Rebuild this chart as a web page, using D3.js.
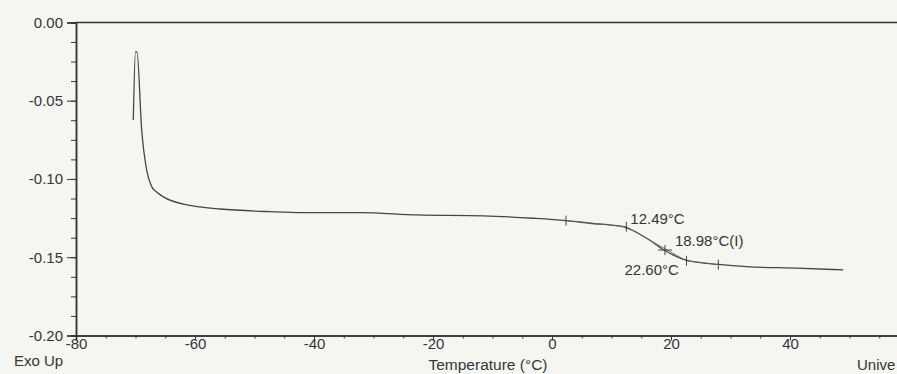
<!DOCTYPE html>
<html>
<head>
<meta charset="utf-8">
<script src="https://cdn.jsdelivr.net/npm/d3@7"></script>
<style>
  html, body { margin: 0; padding: 0; background: #f5f5f2; overflow: hidden; }
  svg { display: block; font-family: "Liberation Sans", Arial, sans-serif; }
</style>
</head>
<body>
<svg id="chart" width="897" height="374"></svg>
<script>
// DSC trace
const temps = [-70.37, -70.0, -69.75, -68.96, -68.12, -67.28, -66.3, -65.38, -61.39, -59.16,
  -55.8, -47.39, -41.85, -32.27, -22.74, -11.6, -3.19, 2.35,
  6.39, 11.88, 15.92, 18.82, 20.96, 22.4, 24.87, 27.95, 32.72, 41.12, 48.96];
const heatFlow = [-0.0623, -0.0189, -0.0189, -0.0687, -0.0943, -0.1049, -0.1088, -0.1113, -0.1166, -0.1179,
  -0.1192, -0.1209, -0.1215, -0.1215, -0.123, -0.1236, -0.1251, -0.1266,
  -0.1283, -0.1305, -0.1379, -0.1454, -0.1496, -0.1517, -0.1534, -0.1546, -0.156, -0.157, -0.1581];

// analysis markers (glass transition)
const markTemps = [2.35, 12.49, 18.98, 22.6, 27.95];
const markValues = [-0.1266, -0.1305, -0.1454, -0.1523, -0.1547];
const labels = ["12.49°C", "18.98°C(I)", "22.60°C"];

const xTicks = [-80, -60, -40, -20, 0, 20, 40];
const yTicks = [0, -0.05, -0.1, -0.15, -0.2];

const svg = d3.select("#chart");
const ink = "#353535";
const hyphen = f => d => f(d).replace("\u2212", "-");

const x = d3.scaleLinear().domain([-80, 60]).range([76, 909]);
const y = d3.scaleLinear().domain([-0.2, 0]).range([335.5, 22.4]);

// frame: top line
svg.append("line")
  .attr("x1", x(-80)).attr("x2", 897)
  .attr("y1", y(0)).attr("y2", y(0))
  .attr("stroke", ink).attr("stroke-width", 1.5);

// x axis
const xAxis = svg.append("g").attr("transform", `translate(0,${y(-0.2)})`);
xAxis.call(d3.axisBottom(x).tickValues(d3.range(-80, 61, 5)).tickSize(3).tickFormat(""));
xAxis.append("g").call(d3.axisBottom(x).tickValues(xTicks).tickSize(5)
  .tickFormat(hyphen(d3.format("d"))).tickPadding(-2));
xAxis.selectAll("path").attr("stroke", ink).attr("stroke-width", 1.5);
xAxis.selectAll("line").attr("stroke", ink);
xAxis.selectAll("text").attr("fill", ink).style("font-size", "15px");

// y axis
const yAxis = svg.append("g").attr("transform", `translate(${x(-80)},0)`);
yAxis.call(d3.axisLeft(y).tickValues(d3.range(0, 17).map(i => -i * 0.0125)).tickSize(5).tickFormat(""));
yAxis.append("g").call(d3.axisLeft(y).tickValues(yTicks).tickSize(9)
  .tickFormat(hyphen(d3.format(".2f"))).tickPadding(4));
yAxis.selectAll("path").attr("stroke", ink).attr("stroke-width", 1.5);
yAxis.selectAll("line").attr("stroke", ink);
yAxis.selectAll("text").attr("fill", ink).style("font-size", "15px");

// curve
const pts = temps.map((t, i) => [t, heatFlow[i]]);
svg.append("path")
  .datum(pts)
  .attr("fill", "none")
  .attr("stroke", "#454545")
  .attr("stroke-width", 1.3)
  .attr("d", d3.line().x(d => x(d[0])).y(d => y(d[1])).curve(d3.curveMonotoneX));

// tangent construction lines
const tang = [[0, 1], [1, 3], [3, 4]];
svg.selectAll(".tan").data(tang).enter().append("line")
  .attr("x1", d => x(markTemps[d[0]])).attr("y1", d => y(markValues[d[0]]))
  .attr("x2", d => x(markTemps[d[1]])).attr("y2", d => y(markValues[d[1]]))
  .attr("stroke", "#666").attr("stroke-width", 0.8);

// tick marks on the curve
svg.selectAll(".mk").data(markTemps).enter().append("line")
  .attr("x1", d => x(d)).attr("x2", d => x(d))
  .attr("y1", (d, i) => y(markValues[i]) - 5).attr("y2", (d, i) => y(markValues[i]) + 5)
  .attr("stroke", "#444").attr("stroke-width", 1);
svg.append("line")
  .attr("x1", x(markTemps[2]) - 7).attr("x2", x(markTemps[2]) + 7)
  .attr("y1", y(markValues[2])).attr("y2", y(markValues[2]))
  .attr("stroke", "#444").attr("stroke-width", 1);

// annotation text
const ann = svg.append("g").attr("fill", ink).style("font-size", "15px");
ann.append("text").attr("x", x(markTemps[1]) + 4).attr("y", y(markValues[1]) - 3).text(labels[0]);
ann.append("text").attr("x", x(markTemps[2]) + 10).attr("y", y(markValues[2]) - 4).text(labels[1]);
ann.append("text").attr("x", x(markTemps[3]) - 62).attr("y", y(markValues[3]) + 14).text(labels[2]);

// footer
svg.append("text").attr("x", 14).attr("y", 366).attr("fill", ink).style("font-size", "15px").text("Exo Up");
svg.append("text").attr("x", 488).attr("y", 370).attr("text-anchor", "middle")
  .attr("fill", ink).style("font-size", "15.5px").text("Temperature (°C)");
svg.append("text").attr("x", 857).attr("y", 370).attr("fill", ink).style("font-size", "15px")
  .text("Unive");
</script>
</body>
</html>
